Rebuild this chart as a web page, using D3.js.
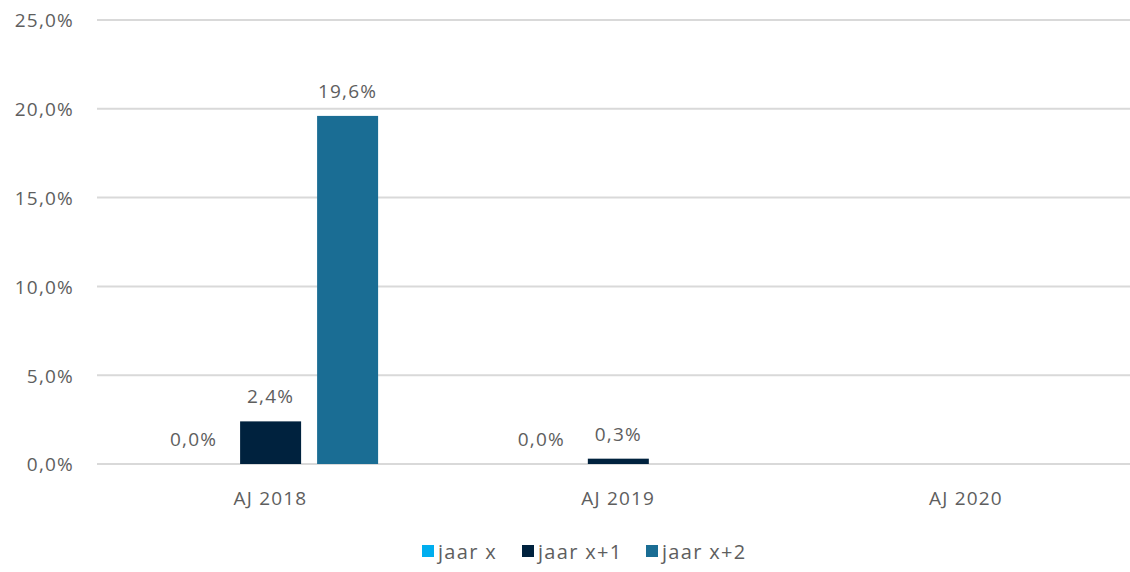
<!DOCTYPE html>
<html><head><meta charset="utf-8">
<script src="https://cdn.jsdelivr.net/npm/d3@7"></script>
<style>
html,body{margin:0;padding:0;background:#fff;}
svg text{font-family:"Open Sans",sans-serif;fill:#5e5e5e;}
</style></head>
<body><svg id="c" width="1130" height="572"></svg>
<script>
const categories = ["AJ 2018", "AJ 2019", "AJ 2020"];
const seriesNames = ["jaar x", "jaar x+1", "jaar x+2"];
const jaarX  = [0.0, 0.0, null];
const jaarX1 = [2.4, 0.3, null];
const jaarX2 = [19.6, null, null];
const yTicks = [0, 5, 10, 15, 20, 25];
const colors = ["#00aeef", "#00223e", "#1a6d94"];

const seriesValues = [jaarX, jaarX1, jaarX2];
const svg = d3.select("#c");
const fmt = v => d3.format(".1f")(v).replace(".", ",") + "%";

const x0 = d3.scaleBand().domain(categories).range([96.6, 1139.8]).paddingInner(0).paddingOuter(0);
const x1 = d3.scaleBand().domain(seriesNames).range([66.5, 66.5 + 61*3 + 16*2]).paddingInner(16/77).paddingOuter(0);
const y = d3.scaleLinear().domain([0, 25]).range([464, 20]);

// gridlines
svg.append("g").selectAll("line").data(yTicks).join("line")
  .attr("x1", 97).attr("x2", 1130)
  .attr("y1", d => y(d)).attr("y2", d => y(d))
  .attr("stroke", "#d9d9d9").attr("stroke-width", 2);

// y axis labels
const yAxis = d3.axisLeft(y).tickValues(yTicks).tickSize(0).tickPadding(0).tickFormat(fmt);
const ya = svg.append("g").attr("transform", "translate(74,0)").call(yAxis);
ya.select(".domain").remove();
ya.selectAll("text").attr("font-size", 19).attr("dy", "0.36em").style("font-family", '"Open Sans",sans-serif').attr("fill", "#5e5e5e").style("letter-spacing", "1.2px");

// x axis labels
const xAxis = d3.axisBottom(x0).tickSize(0).tickPadding(0);
const xa = svg.append("g").attr("transform", "translate(0,505)").call(xAxis);
xa.select(".domain").remove();
xa.selectAll("text").attr("font-size", 19).attr("dy", 0).style("font-family", '"Open Sans",sans-serif').attr("fill", "#5e5e5e").style("letter-spacing", "1.2px");

// bars
const flat = [];
categories.forEach((c, ci) => seriesNames.forEach((s, si) => {
  const v = seriesValues[si][ci];
  if (v !== null) flat.push({c, s, si, v});
}));
const g = svg.append("g");
g.selectAll("rect").data(flat).join("rect")
  .attr("x", d => x0(d.c) + x1(d.s))
  .attr("width", x1.bandwidth())
  .attr("y", d => y(d.v))
  .attr("height", d => y(0) - y(d.v))
  .attr("fill", d => colors[d.si]);
g.selectAll("text").data(flat).join("text")
  .attr("x", d => x0(d.c) + x1(d.s) + x1.bandwidth()/2)
  .attr("y", d => y(d.v) - 18)
  .attr("text-anchor", "middle")
  .attr("font-size", 19)
  .style("letter-spacing", "1.2px")
  .text(d => fmt(d.v));

// legend
const legendX = [422, 522, 646];
const lg = svg.append("g");
seriesNames.forEach((s, i) => {
  lg.append("rect").attr("x", legendX[i]).attr("y", 545).attr("width", 12).attr("height", 12).attr("fill", colors[i]);
  lg.append("text").attr("x", legendX[i] + 16).attr("y", 559).attr("font-size", 20).style("letter-spacing", "1.3px").text(s);
});
</script></body></html>
